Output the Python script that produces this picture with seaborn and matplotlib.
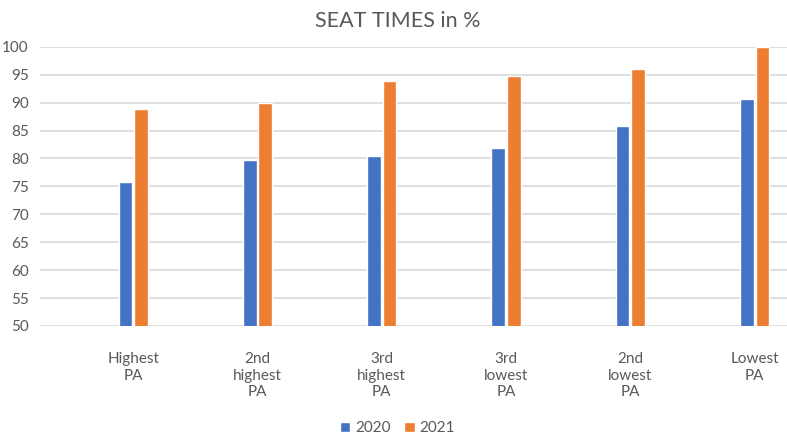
import pandas as pd
import matplotlib
matplotlib.use("Agg")
import matplotlib.pyplot as plt
import seaborn as sns

# chart data
groups = ["Highest\nPA", "2nd\nhighest\nPA", "3rd\nhighest\nPA",
          "3rd\nlowest\nPA", "2nd\nlowest\nPA", "Lowest\nPA"]
years = ["2020", "2021"]
seat_2020 = [75.8, 79.8, 80.4, 81.9, 85.9, 90.6]
seat_2021 = [88.9, 90.0, 93.8, 94.7, 96.1, 100.0]

df = pd.DataFrame({
    "group": groups * 2,
    "year": [years[0]] * len(groups) + [years[1]] * len(groups),
    "value": seat_2020 + seat_2021,
})

sns.set_style("white")
plt.rcParams["font.family"] = ["Lato", "DejaVu Sans"]

grey = "#595959"
fig = plt.figure(figsize=(7.87, 4.34), dpi=100)
ax = fig.add_axes([0.0508, 0.249, 0.9492, 0.643])

sns.barplot(data=df, x="group", y="value", hue="year", order=groups,
            palette=["#4472C4", "#ED7D31"], width=0.25, gap=0.12,
            saturation=1, ax=ax)

ax.set_ylim(50, 100)
ax.set_xlim(-0.75, 5.26)
ax.set_yticks(range(50, 101, 5))
ax.yaxis.grid(True, color="#d9d9d9", linewidth=1.2)
ax.set_axisbelow(True)
for s in ax.spines.values():
    s.set_visible(False)
ax.set_xlabel("")
ax.set_ylabel("")
ax.tick_params(axis="x", length=0, pad=19, labelsize=11, labelcolor=grey)
ax.tick_params(axis="y", length=0, pad=8, labelsize=11, labelcolor=grey)
for t in ax.get_xticklabels():
    t.set_linespacing(1.2)

ax.get_legend().remove()
handles, labels = ax.get_legend_handles_labels()
fig.legend(handles, labels, loc="lower center", bbox_to_anchor=(0.505, -0.035),
           ncol=2, frameon=False, handlelength=0.7, handleheight=0.7,
           handletextpad=0.3, columnspacing=0.9, fontsize=11,
           labelcolor=grey)

fig.suptitle("SEAT TIMES in %", x=0.505, y=0.975, fontsize=15.5, color=grey)

fig.savefig("out.png", dpi=100)
